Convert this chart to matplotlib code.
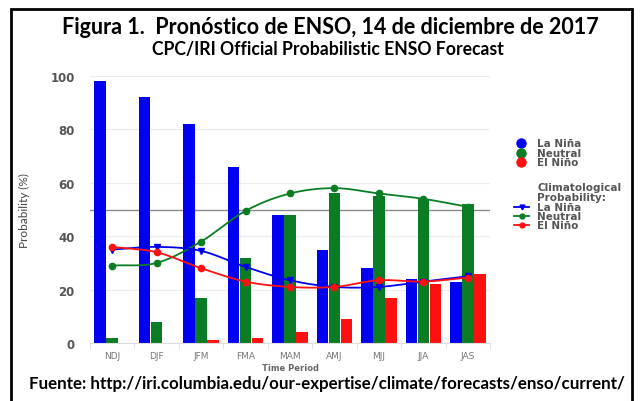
import numpy as np
import matplotlib
matplotlib.use("Agg")
import matplotlib.pyplot as plt
from matplotlib.patches import Rectangle

# ── data ────────────────────────────────────────────────────────────────────
seasons = ["NDJ", "DJF", "JFM", "FMA", "MAM", "AMJ", "MJJ", "JJA", "JAS"]
la_nina = [98, 92, 82, 66, 48, 35, 28, 24, 23]
neutral = [2, 8, 17, 32, 48, 56, 55, 54, 52]
el_nino = [0, 0, 1, 2, 4, 9, 17, 22, 26]

clim_la_nina = [35, 36, 34.5, 28.5, 23.5, 21, 21, 23, 25]
clim_neutral = [29, 30, 38, 49.5, 56, 58, 56, 54, 51]
clim_el_nino = [36, 34, 28, 23, 21, 21, 23.5, 23, 24.5]

legend_labels = ["La Niña", "Neutral", "El Niño"]

C_BLUE = "#0000f0"
C_GREEN = "#0a7d24"
C_RED = "#ff1010"
C_TEXT = "#555555"


def smooth(x, y, n=20):
    # cubic Hermite path through the points, for drawing only
    x = np.asarray(x, float); y = np.asarray(y, float)
    m = np.gradient(y, x)
    xs, ys = [], []
    for i in range(len(x) - 1):
        t = np.linspace(0, 1, n, endpoint=False)
        h = x[i + 1] - x[i]
        h00 = 2 * t**3 - 3 * t**2 + 1
        h10 = t**3 - 2 * t**2 + t
        h01 = -2 * t**3 + 3 * t**2
        h11 = t**3 - t**2
        xs.append(x[i] + t * h)
        ys.append(h00 * y[i] + h10 * h * m[i] + h01 * y[i + 1] + h11 * h * m[i + 1])
    xs.append([x[-1]]); ys.append([y[-1]])
    return np.concatenate(xs), np.concatenate(ys)


W, H = 641, 402
fig = plt.figure(figsize=(W / 100, H / 100), dpi=100)
ax = fig.add_axes([90 / W, 1 - 344 / H, 400 / W, 267 / H])

x = np.arange(len(seasons))
bw = 0.26
ax.bar(x - 0.27, la_nina, bw, color=C_BLUE, zorder=2)
ax.bar(x, neutral, bw, color=C_GREEN, zorder=2)
ax.bar(x + 0.27, el_nino, bw, color=C_RED, zorder=2)

ax.axhline(50, color="#8a8a8a", lw=1.0, zorder=1)

for vals, col, mk in [(clim_neutral, C_GREEN, "o"),
                      (clim_la_nina, C_BLUE, "v"),
                      (clim_el_nino, C_RED, "o")]:
    sx, sy = smooth(x, vals)
    ax.plot(sx, sy, color=col, lw=1.3, zorder=3)
    ax.plot(x, vals, ls="", marker=mk, color=col, markersize=4.5, zorder=4)

ax.set_xlim(-0.5, len(seasons) - 0.5)
ax.set_ylim(0, 100)
ax.set_yticks([0, 20, 40, 60, 80, 100])
ax.grid(axis="y", color="#ececec", lw=0.8, zorder=0)
ax.set_axisbelow(True)
for s in ["top", "right", "left"]:
    ax.spines[s].set_visible(False)
ax.spines["bottom"].set_color("#dddddd")
ax.tick_params(axis="y", length=0, pad=11, labelsize=8.5, labelcolor=C_TEXT)
ax.set_xticks(x)
ax.set_xticklabels(seasons)
ax.tick_params(axis="x", length=0, pad=6, labelsize=6.5, labelcolor="#777777")
ax.set_xticks(np.arange(len(seasons) + 1) - 0.5, minor=True)
ax.tick_params(axis="x", which="minor", length=4, color="#dddddd")
for lab in ax.get_yticklabels():
    lab.set_fontweight("bold")

ax.set_ylabel("Probability (%)", fontsize=8.5, color="#444444", family="Lato")
ax.yaxis.set_label_coords(-60 / 400, 0.5)
ax.set_xlabel("Time Period", fontsize=6, color="#666666", fontweight="bold",
              labelpad=2)

# overlay in pixel units for the legend block
ov = fig.add_axes([0, 0, 1, 1])
ov.set_xlim(0, W)
ov.set_ylim(H, 0)
ov.axis("off")

for c, lab, yy in zip((C_BLUE, C_GREEN, C_RED), legend_labels, (144, 154, 163)):
    ov.plot([521], [yy], ls="", marker="o", color=c, markersize=6.5)
    ov.text(537, yy, lab, va="center", ha="left", fontsize=7.5,
            fontweight="bold", color=C_TEXT)

ov.text(537, 188, "Climatological", va="center", ha="left", fontsize=7.5,
        fontweight="bold", color=C_TEXT)
ov.text(537, 198, "Probability:", va="center", ha="left", fontsize=7.5,
        fontweight="bold", color=C_TEXT)
for c, m, lab, yy in zip((C_BLUE, C_GREEN, C_RED), ("v", "o", "o"),
                         legend_labels, (208, 217, 226)):
    ov.plot([514, 529], [yy, yy], color=c, lw=1.3)
    ov.plot([521.5], [yy], ls="", marker=m, color=c, markersize=3.5)
    ov.text(537, yy, lab, va="center", ha="left", fontsize=7.5,
            fontweight="bold", color=C_TEXT)

# titles and source
fig.text(330 / W, 1 - 27 / H, "Figura 1.  Pronóstico de ENSO, 14 de diciembre de 2017",
         ha="center", va="center", fontsize=15.5, fontweight="bold", family="Lato")
fig.text(328 / W, 1 - 50 / H, "CPC/IRI Official Probabilistic ENSO Forecast",
         ha="center", va="center", fontsize=12.7, fontweight="bold", family="Lato")
fig.text(327 / W, 1 - 384 / H,
         "Fuente: http://iri.columbia.edu/our-expertise/climate/forecasts/enso/current/",
         ha="center", va="center", fontsize=12.2, fontweight="bold", family="Lato")

fig.patches.append(Rectangle((11 / W, -0.05), 621 / W, 1 - 10 / H + 0.05,
                             transform=fig.transFigure, fill=False,
                             ec="black", lw=2))

fig.savefig("out.png", dpi=100)
